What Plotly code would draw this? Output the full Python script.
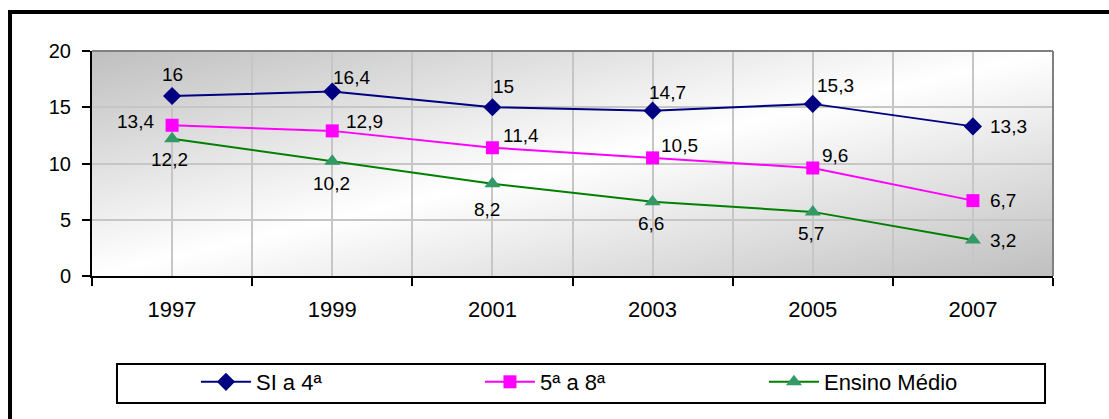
import base64
import plotly.graph_objects as go

# Series values (per cent)
years = [1997, 1999, 2001, 2003, 2005, 2007]
year_labels = ["1997", "1999", "2001", "2003", "2005", "2007"]
si_a_4 = [16, 16.4, 15, 14.7, 15.3, 13.3]
de_5_a_8 = [13.4, 12.9, 11.4, 10.5, 9.6, 6.7]
ensino_medio = [12.2, 10.2, 8.2, 6.6, 5.7, 3.2]
y_ticks = [0, 5, 10, 15, 20]

FONT = "Liberation Sans, Arial, sans-serif"

series = [
    dict(name="SI a 4ª", values=si_a_4, line="#000080", marker="#000080",
         symbol="diamond", size=14,
         shifts=[(0, 22), (19, 14), (11, 21), (15, 18), (23, 18), (36, 0)]),
    dict(name="5ª a 8ª", values=de_5_a_8, line="#FF00FF", marker="#FF00FF",
         symbol="square", size=13,
         shifts=[(-37, 4), (32, 9), (29, 12), (27, 12), (22, 13), (30, 0)]),
    dict(name="Ensino Médio", values=ensino_medio, line="#008000", marker="#339966",
         symbol="triangle-up", size=14,
         shifts=[(-3, -21), (-1, -22), (-5, -26), (-2, -22), (-2, -22), (30, 0)]),
]


def fmt(v):
    return f"{v:g}".replace(".", ",")


fig = go.Figure()
annotations = []
for s in series:
    fig.add_trace(go.Scatter(
        x=years, y=s["values"], name=s["name"], mode="lines+markers",
        line=dict(color=s["line"], width=2),
        marker=dict(symbol=s["symbol"], size=s["size"], color=s["marker"],
                    line=dict(width=0)),
        cliponaxis=False,
    ))
    for xv, yv, (dx, dy) in zip(years, s["values"], s["shifts"]):
        annotations.append(dict(
            x=xv, y=yv, xref="x", yref="y", text=fmt(yv), showarrow=False,
            xshift=dx, yshift=dy, font=dict(family=FONT, size=19, color="black"),
        ))

# Diagonal gray-white-gray fill for the plotting area
svg = (
    "<svg xmlns='http://www.w3.org/2000/svg' width='100' height='100' "
    "viewBox='0 0 100 100' preserveAspectRatio='none'>"
    "<defs><linearGradient id='g' x1='0' y1='0' x2='1' y2='1'>"
    "<stop offset='0' stop-color='#bfbfbf'/>"
    "<stop offset='0.5' stop-color='#ffffff'/>"
    "<stop offset='1' stop-color='#bfbfbf'/>"
    "</linearGradient></defs>"
    "<rect width='100' height='100' fill='url(#g)'/></svg>"
)
bg_src = "data:image/svg+xml;base64," + base64.b64encode(svg.encode()).decode()

x_lo, x_hi = years[0] - 1, years[-1] + 1
boundaries = [y - 1 for y in years] + [years[-1] + 1]
grid_color = "#c6c6c6"

frame_left, frame_top = -0.0853, 1.1733
page_right, page_bottom = 1.0583, -0.6356

fig.update_layout(
    width=1109, height=419,
    margin=dict(l=92, r=56, t=51, b=143),
    paper_bgcolor="white",
    plot_bgcolor="rgba(0,0,0,0)",
    font=dict(family=FONT, color="black"),
    showlegend=True,
    legend=dict(
        orientation="h", xref="container", yref="container",
        x=0.1767, y=0.0883, xanchor="left", yanchor="middle",
        entrywidth=219, entrywidthmode="pixels", itemwidth=50,
        font=dict(family=FONT, size=22, color="black"),
        bgcolor="rgba(0,0,0,0)", borderwidth=0, traceorder="normal",
    ),
    images=[dict(
        source=bg_src, xref="x", yref="y", x=x_lo, y=20,
        sizex=x_hi - x_lo, sizey=20, sizing="stretch", layer="below",
        xanchor="left", yanchor="top",
    )],
    annotations=annotations,
    shapes=[
        # outer chart frame (left and top edges; the rest runs off the page)
        dict(type="line", xref="paper", yref="paper",
             x0=frame_left, x1=frame_left, y0=page_bottom, y1=frame_top + 0.0089,
             line=dict(color="black", width=4), layer="above"),
        dict(type="line", xref="paper", yref="paper",
             x0=frame_left - 0.0021, x1=page_right, y0=frame_top, y1=frame_top,
             line=dict(color="black", width=4), layer="above"),
        # top and right edges of the plotting area
        dict(type="line", xref="paper", yref="paper", x0=0, x1=1, y0=1, y1=1,
             line=dict(color="#808080", width=2), layer="above"),
        dict(type="line", xref="paper", yref="paper", x0=1, x1=1, y0=0, y1=1,
             line=dict(color="#808080", width=2), layer="above"),
        # legend box
        dict(type="rect", xref="paper", yref="paper",
             x0=0.026, x1=0.9917, y0=-0.5644, y1=-0.3911,
             line=dict(color="black", width=2), fillcolor="rgba(0,0,0,0)", layer="above"),
    ],
)

fig.update_xaxes(
    range=[x_lo, x_hi], tickmode="array", tickvals=years, ticktext=year_labels,
    ticks="", showgrid=True, gridcolor=grid_color, gridwidth=2, zeroline=False,
    showline=True, linecolor="black", linewidth=2, automargin=False,
    tickfont=dict(family=FONT, size=22, color="black"), ticklabelstandoff=13,
    minor=dict(tickmode="array", tickvals=boundaries, ticks="outside", ticklen=8,
               tickwidth=2, tickcolor="black", showgrid=True, gridcolor=grid_color,
               gridwidth=2),
)
fig.update_yaxes(
    range=[0, 20], tickmode="array", tickvals=y_ticks,
    ticks="outside", ticklen=8, tickwidth=2, tickcolor="black",
    showgrid=True, gridcolor=grid_color, gridwidth=2, zeroline=False,
    showline=True, linecolor="black", linewidth=2, automargin=False,
    tickfont=dict(family=FONT, size=20, color="black"), ticklabelstandoff=7,
)

fig.write_html("out.html")
